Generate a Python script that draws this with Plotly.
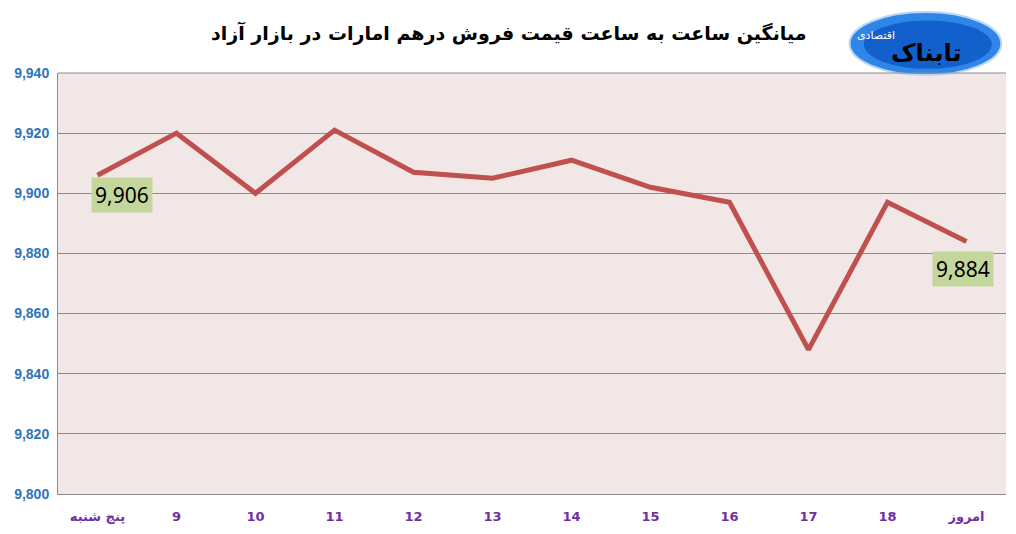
import plotly.graph_objects as go

categories = ["پنج شنبه", "9", "10", "11", "12", "13", "14", "15", "16", "17", "18", "امروز"]
prices = [9906, 9920, 9900, 9921, 9907, 9905, 9911, 9902, 9897, 9848, 9897, 9884]
y_ticks = [9800, 9820, 9840, 9860, 9880, 9900, 9920, 9940]
title = "میانگین ساعت به ساعت قیمت فروش درهم امارات در بازار آزاد"

idx = list(range(len(categories)))

fig = go.Figure()
fig.add_trace(go.Scatter(
    x=idx, y=prices, mode="lines",
    line=dict(color="#C0504D", width=5),
    hoverinfo="skip", showlegend=False,
))

label_font = dict(family="Noto Sans, Liberation Sans, sans-serif", size=21, color="#000000")
fig.add_annotation(x=idx[0], y=prices[0], text=f"{prices[0]:,}", showarrow=False,
                   xshift=24, yshift=-20, bgcolor="#C3D69B", font=label_font, borderpad=3)
fig.add_annotation(x=idx[-1], y=prices[-1], text=f"{prices[-1]:,}", showarrow=False,
                   xshift=-4, yshift=-28, bgcolor="#C3D69B", font=label_font, borderpad=3)

# title
fig.add_annotation(xref="paper", yref="paper", x=0.475, y=1.0, yshift=54,
                   text=f"<b>{title}</b>", showarrow=False,
                   font=dict(family="DejaVu Sans, Noto Sans, sans-serif", size=19, color="#000000"))

# logo (approximation)
fig.add_shape(type="circle", xref="paper", yref="paper",
              x0=0.835, x1=0.995, y0=0.995, y1=1.145,
              fillcolor="#2F86E8", line=dict(color="#B9D6F5", width=2), layer="above")
fig.add_shape(type="circle", xref="paper", yref="paper",
              x0=0.85, x1=0.985, y0=1.01, y1=1.125,
              fillcolor="#1160CC", line=dict(width=0), layer="above")
fig.add_annotation(xref="paper", yref="paper", x=0.955, y=1.085,
                   text="<b>تابناک</b>", showarrow=False,
                   font=dict(family="DejaVu Sans, sans-serif", size=24, color="#000000"))
fig.add_annotation(xref="paper", yref="paper", x=0.885, y=1.11,
                   text="اقتصادی", showarrow=False,
                   font=dict(family="DejaVu Sans, sans-serif", size=11, color="#FFFFFF"))

fig.update_layout(
    width=1000, height=518,
    margin=dict(l=50, r=2, t=65, b=32),
    paper_bgcolor="#FFFFFF",
    plot_bgcolor="#F2E7E7",
    xaxis=dict(
        tickmode="array", tickvals=idx, ticktext=[f"<b>{c}</b>" for c in categories],
        range=[-0.5, len(categories) - 0.5],
        showgrid=False, zeroline=False, automargin=False,
        showline=True, linecolor="#8C8C8C", linewidth=1,
        tickfont=dict(family="DejaVu Sans, Liberation Sans, sans-serif", size=13, color="#7030A0"),
        ticks="", ticklabelstandoff=10,
    ),
    yaxis=dict(
        range=[9800, 9940], tickvals=y_ticks,
        ticktext=[f"<b>{v:,}</b>" for v in y_ticks],
        showgrid=True, gridcolor="#8C8C8C", gridwidth=1, automargin=False,
        zeroline=False, showline=True, linecolor="#8C8C8C", linewidth=1, mirror=False,
        tickfont=dict(family="Liberation Sans, sans-serif", size=14, color="#2E75B6"),
        ticks="", ticklabelstandoff=5,
    ),
)
fig.add_shape(type="line", xref="paper", yref="paper", x0=0, x1=1, y0=1, y1=1,
              line=dict(color="#8C8C8C", width=1))

fig.write_html("out.html")
